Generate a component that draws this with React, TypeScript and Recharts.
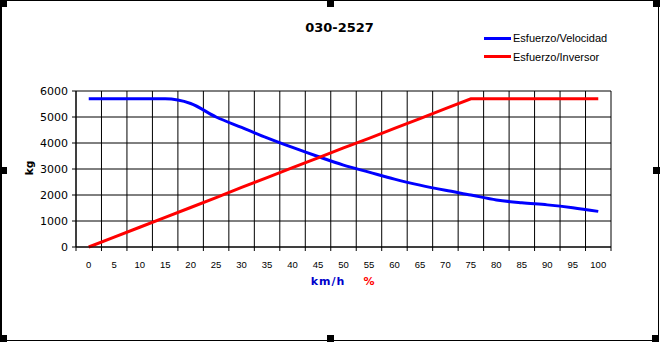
import { LineChart, Line, XAxis, YAxis, CartesianGrid, Legend } from 'recharts'

const speeds = [0, 5, 10, 15, 20, 25, 30, 35, 40, 45, 50, 55, 60, 65, 70, 75, 80, 85, 90, 95, 100]
const esfuerzoVelocidad = [5700, 5700, 5700, 5700, 5520, 5000, 4600, 4200, 3830, 3480, 3150, 2880, 2610, 2380, 2180, 2000, 1810, 1700, 1620, 1510, 1370]
const esfuerzoInversor = [0, 380, 760, 1140, 1520, 1900, 2290, 2670, 3050, 3430, 3810, 4180, 4560, 4940, 5320, 5700, 5700, 5700, 5700, 5700, 5700]
const kgTicks = [0, 1000, 2000, 3000, 4000, 5000, 6000]

const series = [
  { key: 'vel', name: 'Esfuerzo/Velocidad', color: '#0000ff', curve: 'monotone' as const },
  { key: 'inv', name: 'Esfuerzo/Inversor', color: '#ff0000', curve: 'linear' as const },
]

const data = speeds.map((x, i) => ({ x, vel: esfuerzoVelocidad[i], inv: esfuerzoInversor[i] }))

// excel puts the vertical grid between categories
const half = (speeds[1] - speeds[0]) / 2
const gridTicks = [...speeds.map(s => s - half), speeds[speeds.length - 1] + half]
const domain = [gridTicks[0], gridTicks[gridTicks.length - 1]]

function LegendBox() {
  return (
    <div style={{ fontFamily: '"Liberation Sans", Arial, sans-serif', fontSize: 11, color: '#000' }}>
      {series.map(s => (
        <div key={s.key} style={{ display: 'flex', alignItems: 'center', height: 18.5 }}>
          <span style={{ width: 27, height: 3, background: s.color, marginRight: 2 }} />
          <span>{s.name}</span>
        </div>
      ))}
    </div>
  )
}

const handles: [number, number][] = [
  [0, 0], [327, 0], [653, 0],
  [0, 167], [653, 167],
  [0, 335], [327, 335], [652, 335],
]

export default function App() {
  return (
    <div style={{ position: 'absolute', left: 0, top: 0, width: 660, height: 342, background: '#fff', fontFamily: '"DejaVu Sans", sans-serif' }}>
      <LineChart width={660} height={342} data={data} margin={{ top: 91, right: 49, left: 31, bottom: 65 }}>
        <CartesianGrid xAxisId="grid" stroke="#000" strokeWidth={1} />
        <XAxis
          xAxisId="grid"
          type="number"
          dataKey="x"
          domain={domain}
          ticks={gridTicks}
          interval={0}
          tickFormatter={() => ''}
          tickSize={4}
          tickLine={{ stroke: '#000' }}
          axisLine={{ stroke: '#000' }}
          height={5}
        />
        <XAxis
          xAxisId="lab"
          type="number"
          dataKey="x"
          domain={domain}
          ticks={speeds}
          interval={0}
          axisLine={false}
          tickLine={false}
          tickSize={6}
          tickMargin={3}
          tick={{ fill: '#000', fontSize: 9.5, fontFamily: '"Liberation Sans", Arial, sans-serif' }}
          height={25}
        />
        <YAxis
          type="number"
          domain={[0, 6000]}
          ticks={kgTicks}
          interval={0}
          width={45}
          tickSize={4}
          tickMargin={4}
          tickLine={{ stroke: '#000' }}
          axisLine={{ stroke: '#000' }}
          tick={{ fill: '#000', fontSize: 11, fontFamily: '"DejaVu Sans", sans-serif' }}
        />
        <Legend
          content={() => <LegendBox />}
          layout="horizontal"
          verticalAlign="middle"
          align="center"
          wrapperStyle={{ top: 29, left: 484, width: 160 }}
        />
        {series.map(s => (
          <Line
            key={s.key}
            xAxisId="lab"
            type={s.curve}
            dataKey={s.key}
            name={s.name}
            stroke={s.color}
            strokeWidth={3}
            dot={false}
            isAnimationActive={false}
          />
        ))}
      </LineChart>

      <svg width={660} height={342} style={{ position: 'absolute', left: 0, top: 0, pointerEvents: 'none' }}>
        <text x={339.5} y={31.7} textAnchor="middle" fontSize={13} fontWeight="bold" fill="#000">030-2527</text>
        <text x={33} y={168} textAnchor="middle" fontSize={10.5} fontWeight="bold" fill="#000" transform="rotate(-90 33 168)">kg</text>
        <text x={328} y={285} textAnchor="middle" fontSize={11} fontWeight="bold" letterSpacing={1} fill="#0000cc">km/h</text>
        <text x={369} y={285} textAnchor="middle" fontSize={11} fontWeight="bold" fill="#ff0000">%</text>
      </svg>

      <div style={{ position: 'absolute', left: 0, top: 0, width: 659, height: 341, boxSizing: 'border-box', border: '1px solid #000', borderLeftWidth: 2 }} />
      {handles.map(([x, y]) => (
        <div key={`${x}-${y}`} style={{ position: 'absolute', left: x, top: y, width: 7, height: 7, background: '#000' }} />
      ))}
    </div>
  )
}
